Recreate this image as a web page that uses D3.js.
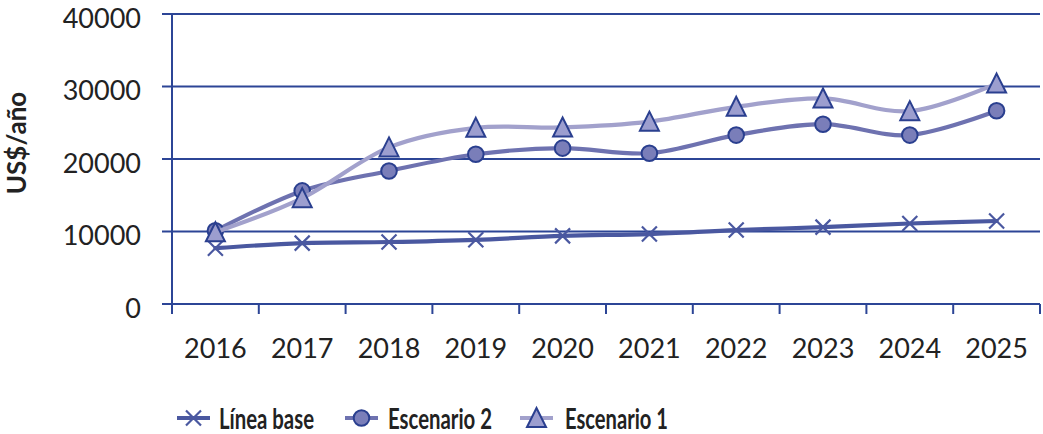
<!DOCTYPE html>
<html>
<head>
<meta charset="utf-8">
<script src="https://cdn.jsdelivr.net/npm/d3@7"></script>
<style>
  html, body { margin: 0; padding: 0; background: #ffffff; }
  svg { display: block; }
  text { font-family: "Lato", "Open Sans", sans-serif; fill: #222222; }
</style>
</head>
<body>
<svg id="chart" width="1043" height="434"></svg>
<script>
const years = ["2016","2017","2018","2019","2020","2021","2022","2023","2024","2025"];
const lineaBase  = [7700, 8400, 8550, 8850, 9400, 9650, 10200, 10600, 11100, 11450];
const escenario2 = [10100, 15600, 18350, 20650, 21500, 20800, 23300, 24800, 23300, 26650];
const escenario1 = [9900, 14600, 21600, 24300, 24350, 25150, 27200, 28350, 26600, 30400];
const yTicks = [0, 10000, 20000, 30000, 40000];
const seriesNames = ["Línea base", "Escenario 2", "Escenario 1"];

const svg = d3.select("#chart");
const axisColor = "#2c4596";
const markerStroke = "#2a3f8f";

const x = d3.scaleBand().domain(years).range([172, 1040]).paddingInner(0).paddingOuter(0);
const y = d3.scaleLinear().domain([0, 40000]).range([304, 14]);
const cx = d => x(d) + x.bandwidth() / 2;

// gridlines
svg.append("g").selectAll("line").data(yTicks).join("line")
  .attr("x1", 162).attr("x2", 1040)
  .attr("y1", d => y(d)).attr("y2", d => y(d))
  .attr("stroke", axisColor).attr("stroke-width", 2);

// y axis line
svg.append("line").attr("x1", 172).attr("x2", 172).attr("y1", y(40000)).attr("y2", y(0) + 10)
  .attr("stroke", axisColor).attr("stroke-width", 2);

// x ticks at band boundaries
const bounds = years.map(d => x(d)).concat([x(years[years.length - 1]) + x.bandwidth()]);
svg.append("g").selectAll("line").data(bounds.slice(1)).join("line")
  .attr("x1", d => d).attr("x2", d => d)
  .attr("y1", y(0)).attr("y2", y(0) + 10)
  .attr("stroke", axisColor).attr("stroke-width", 2);

// y tick labels
svg.append("g").selectAll("text").data(yTicks).join("text")
  .attr("x", 141).attr("y", d => y(d) + 4).attr("dy", "0.36em")
  .attr("text-anchor", "end").attr("font-size", 27).text(d => d);

// x tick labels
svg.append("g").selectAll("text").data(years).join("text")
  .attr("x", d => cx(d)).attr("y", 358)
  .attr("text-anchor", "middle").attr("font-size", 27).text(d => d);

// y axis title
svg.append("text").attr("transform", "translate(26,143) rotate(-90)")
  .attr("text-anchor", "middle").attr("font-size", 26).attr("font-weight", "bold")
  .text("US$/año");

const curve = d3.line().x((d, i) => cx(years[i])).y(d => y(d)).curve(d3.curveCardinal);

const styles = [
  { data: lineaBase, color: "#4a58a0", marker: "x" },
  { data: escenario2, color: "#6e72b0", marker: "circle", fill: "#7a7eb9" },
  { data: escenario1, color: "#a2a1cc", marker: "triangle", fill: "#9c9ecf" }
];

function drawMarker(g, type, px, py, s) {
  if (type === "x") {
    const r = 7.5;
    g.append("path").attr("d", `M${px-r},${py-r}L${px+r},${py+r}M${px-r},${py+r}L${px+r},${py-r}`)
      .attr("stroke", "#4a58a0").attr("stroke-width", 2.2).attr("fill", "none");
  } else if (type === "circle") {
    g.append("circle").attr("cx", px).attr("cy", py).attr("r", 7.8)
      .attr("fill", s.fill).attr("stroke", markerStroke).attr("stroke-width", 2);
  } else {
    const w = 9.5, h = 18;
    g.append("path").attr("d", `M${px},${py - h/2 - 1}L${px + w},${py + h/2}L${px - w},${py + h/2}Z`)
      .attr("fill", s.fill).attr("stroke", markerStroke).attr("stroke-width", 2).attr("stroke-linejoin", "miter");
  }
}

styles.forEach(s => {
  const g = svg.append("g");
  g.append("path").attr("d", curve(s.data)).attr("fill", "none")
    .attr("stroke", s.color).attr("stroke-width", 4.2).attr("stroke-linecap", "round");
  s.data.forEach((v, i) => drawMarker(g, s.marker, cx(years[i]), y(v), s));
});

// legend
const legendItems = [
  { x0: 177, tx: 219, w: 95 },
  { x0: 345, tx: 388, w: 104 },
  { x0: 520, tx: 565, w: 103 }
];
const ly = 419;
styles.forEach((s, i) => {
  const g = svg.append("g");
  const li = legendItems[i];
  g.append("line").attr("x1", li.x0).attr("x2", li.x0 + 33).attr("y1", ly - 1).attr("y2", ly - 1)
    .attr("stroke", s.color).attr("stroke-width", 4.2);
  drawMarker(g, s.marker, li.x0 + 16.5, ly - 1, s);
  g.append("text").attr("x", li.tx).attr("y", ly).attr("dy", "0.36em")
    .attr("font-size", 28).attr("font-weight", "bold")
    .attr("textLength", li.w).attr("lengthAdjust", "spacingAndGlyphs")
    .text(seriesNames[i]);
});
</script>
</body>
</html>
